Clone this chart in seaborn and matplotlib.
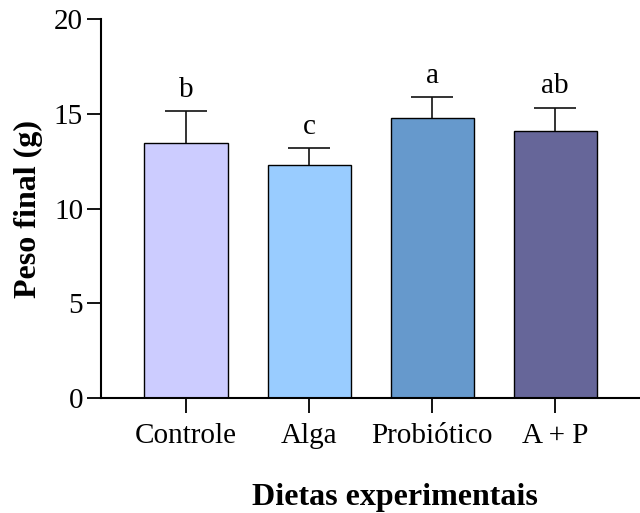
import matplotlib
matplotlib.use("Agg")
import matplotlib.pyplot as plt
import seaborn as sns
import pandas as pd

# -----------------------------------
# DATA
# -----------------------------------

dietas = ["Controle", "Alga", "Probiótico", "A + P"]
peso_medio = [13.5, 12.3, 14.8, 14.1]
peso_dp = [1.65, 0.9, 1.1, 1.25]
letras = ["b", "c", "a", "ab"]
cores = ["#CCCCFF", "#99CCFF", "#6699CC", "#666699"]

df = pd.DataFrame({"dieta": dietas, "peso": peso_medio})

# -----------------------------------
# STYLE
# -----------------------------------

sns.set_style("ticks", {
    "text.color": "black",
    "axes.labelcolor": "black",
    "axes.edgecolor": "black",
    "xtick.color": "black",
    "ytick.color": "black",
})
plt.rcParams["font.family"] = ["Liberation Serif", "DejaVu Serif"]

fig = plt.figure(figsize=(6.4, 5.13), dpi=100)
ax = fig.add_axes([0.158, 0.224, 0.842, 0.738])

sns.barplot(
    data=df,
    x="dieta",
    y="peso",
    hue="dieta",
    palette=cores,
    saturation=1,
    edgecolor="black",
    linewidth=1.0,
    width=0.675,
    legend=False,
    ax=ax,
)

# only upper error bars
eb = ax.errorbar(
    range(len(dietas)),
    peso_medio,
    yerr=[[0] * len(dietas), peso_dp],
    fmt="none",
    ecolor="#111111",
    elinewidth=1.2,
    capsize=15,
    capthick=1.2,
)
eb[1][0].set_visible(False)  # hide lower caps

for i, (m, s, l) in enumerate(zip(peso_medio, peso_dp, letras)):
    ax.annotate(l, (i, m + s), xytext=(0, 6), textcoords="offset points",
                ha="center", va="bottom", fontsize=21)

# -----------------------------------
# AXES
# -----------------------------------

ax.set_ylim(0, 20)
ax.set_yticks([0, 5, 10, 15, 20])
ax.set_xlim(-0.69, 3.69)
sns.despine(ax=ax)
ax.spines["left"].set_linewidth(1.5)
ax.spines["bottom"].set_linewidth(1.5)
ax.tick_params(axis="y", length=10, width=1.3, labelsize=21, pad=3)
ax.tick_params(axis="x", length=11, width=1.3, labelsize=21, pad=7)

ax.set_xlabel("Dietas experimentais", fontsize=23, fontweight="bold", labelpad=24)
ax.xaxis.set_label_coords(0.545, -0.225)
ax.set_ylabel("Peso final (g)", fontsize=23, fontweight="bold", labelpad=8)

fig.savefig("out.png", dpi=100)
